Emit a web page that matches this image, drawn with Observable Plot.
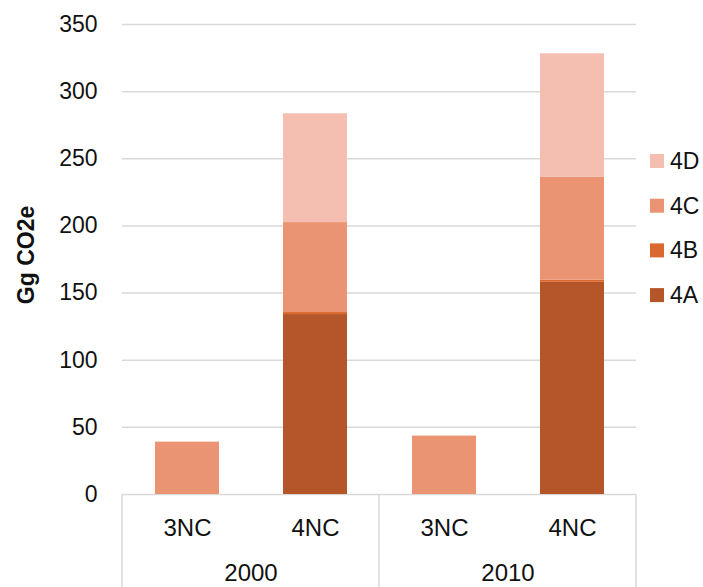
<!DOCTYPE html>
<html>
<head>
<meta charset="utf-8">
<script src="https://cdn.jsdelivr.net/npm/d3@7"></script>
<script src="https://cdn.jsdelivr.net/npm/@observablehq/plot@0.6"></script>
<style>
  html, body { margin: 0; padding: 0; background: #fff; }
  #chart { position: relative; width: 703px; height: 587px; }
  svg { font-family: "Liberation Sans", Arial, sans-serif; }
</style>
</head>
<body>
<div id="chart"></div>
<script>
// ---- data ----
const groups = ["2000", "2010"];
const types = ["3NC", "4NC"];
const series = ["4A", "4B", "4C", "4D"];
// columns: 2000-3NC, 2000-4NC, 2010-3NC, 2010-4NC
const colGroup = ["2000", "2000", "2010", "2010"];
const colType = ["3NC", "4NC", "3NC", "4NC"];
const v4A = [0, 134, 0, 158];
const v4B = [0, 1.5, 0, 1.7];
const v4C = [39, 67, 43.5, 76.5];
const v4D = [0, 81, 0, 92];
const yTicks = [0, 50, 100, 150, 200, 250, 300, 350];
const yLabel = "Gg CO2e";
const colors = ["#B5562A", "#D9692E", "#EB9473", "#F4BEB1"];

const valuesBySeries = { "4A": v4A, "4B": v4B, "4C": v4C, "4D": v4D };
const rows = [];
series.forEach(s => {
  valuesBySeries[s].forEach((v, i) => {
    if (v > 0) rows.push({ group: colGroup[i], type: colType[i], series: s, value: v });
  });
});

const W = 703, H = 587;
const mL = 122, mR = 67, mT = 24, mB = 93;
const font = 23;

const plot = Plot.plot({
  width: W,
  height: H,
  marginLeft: mL,
  marginRight: mR,
  marginTop: mT,
  marginBottom: mB,
  style: { fontFamily: "Liberation Sans, Arial, sans-serif", fontSize: font + "px", color: "#111", background: "white" },
  fx: { domain: groups, padding: 0 },
  x: { domain: types, paddingInner: 0.5, paddingOuter: 0.25 },
  y: { domain: [0, 350], ticks: yTicks },
  color: { domain: series, range: colors },
  marks: [
    Plot.gridY(yTicks, { stroke: "#d9d9d9", strokeOpacity: 1, strokeWidth: 1.5 }),
    Plot.barY(rows, {
      fx: "group", x: "type", y: "value", fill: "series",
      order: series
    }),
    Plot.axisY(yTicks, { tickSize: 0, tickPadding: 25, label: null, fontSize: font }),
    Plot.axisX({ tickSize: 0, tickPadding: 24, label: null, fontSize: 24 }),
    Plot.axisFx({ anchor: "bottom", tickSize: 0, tickPadding: 69, label: null, fontSize: 24 })
  ]
});

document.getElementById("chart").appendChild(plot);

// ---- category separators below the axis ----
const svg = d3.select(plot);
const fx = plot.scale("fx");
const yS = plot.scale("y");
const y0 = yS.apply(0);
const sepX = groups.map(g => fx.apply(g)).concat([fx.apply(groups[groups.length - 1]) + fx.bandwidth]);
svg.append("g")
  .selectAll("line")
  .data(sepX)
  .join("line")
  .attr("x1", d => d).attr("x2", d => d)
  .attr("y1", y0).attr("y2", H)
  .attr("stroke", "#d9d9d9")
  .attr("stroke-width", 1.5);

// ---- y label ----
svg.append("text")
  .attr("transform", `translate(26,255) rotate(-90)`)
  .attr("text-anchor", "middle")
  .attr("dominant-baseline", "central")
  .attr("font-size", 23)
  .attr("font-weight", "bold")
  .attr("fill", "#111")
  .text(yLabel);

// ---- legend (top to bottom: 4D, 4C, 4B, 4A) ----
const legendItems = series.slice().reverse();
const lg = svg.append("g").attr("transform", "translate(650,161)").attr("text-anchor", "start");
legendItems.forEach((s, i) => {
  const g = lg.append("g").attr("transform", `translate(0,${i * 44.7})`);
  g.append("rect").attr("x", 0).attr("y", -7).attr("width", 14).attr("height", 14)
    .attr("fill", colors[series.indexOf(s)]);
  g.append("text").attr("x", 20).attr("y", 0).attr("dominant-baseline", "central")
    .attr("text-anchor", "start")
    .attr("font-size", 23).attr("fill", "#111").text(s);
});
</script>
</body>
</html>
